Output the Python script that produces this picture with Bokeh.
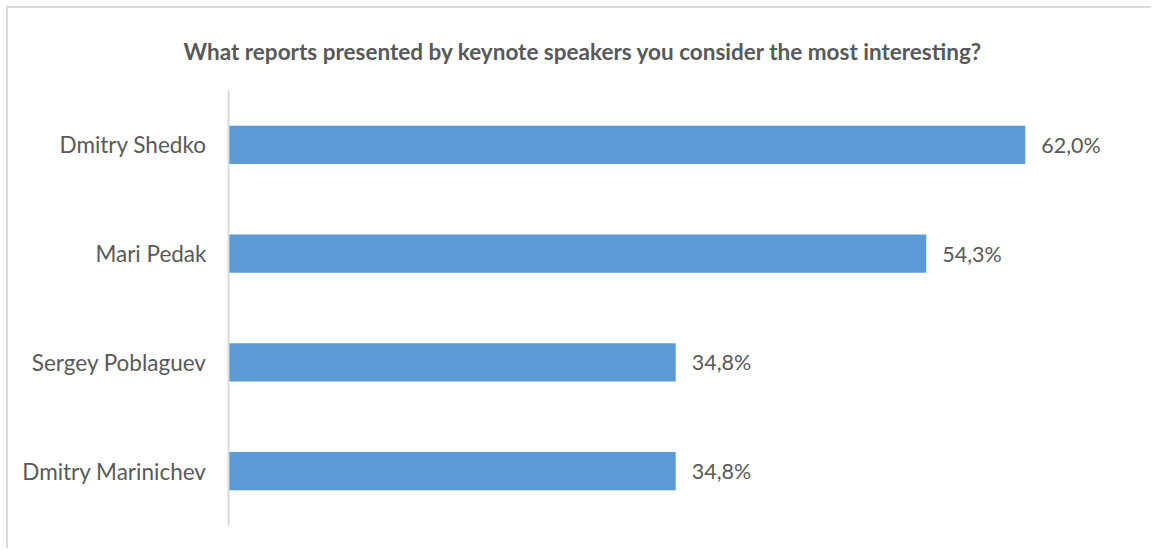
from bokeh.plotting import figure
from bokeh.models import FactorRange, ColumnDataSource, Range1d
from bokeh.core.properties import value
from bokeh.embed import file_html
from bokeh.resources import INLINE

speakers = ["Dmitry Shedko", "Mari Pedak", "Sergey Poblaguev", "Dmitry Marinichev"]
shares = [62.0, 54.3, 34.8, 34.8]
share_labels = ["62,0%", "54,3%", "34,8%", "34,8%"]
title_text = "What reports presented by keynote speakers you consider the most interesting?"

FONT = "Lato"
TXT = "#595959"

src = ColumnDataSource(dict(y=speakers, x=shares, lab=share_labels))

p = figure(width=1145, height=542, output_backend="svg", toolbar_location=None,
           y_range=FactorRange(*reversed(speakers), range_padding=0),
           x_range=Range1d(0, 70.19),
           min_border_left=220, min_border_right=23, min_border_top=82, min_border_bottom=25)
p.styles = {"box-shadow": "-2px -2px 0 0 #d9d9d9",
            "margin-left": "8px", "margin-top": "8px"}

p.hbar(y="y", right="x", left=0, height=0.35, source=src, color="#5B9BD5", line_color=None)
p.text(x="x", y="y", text="lab", source=src, x_offset=16, text_baseline="middle",
       text_align="left", text_font=value(FONT), text_font_size="21.5px", text_color=TXT)

p.title.text = title_text
p.title.align = "left"
p.title.vertical_align = "bottom"
p.title.text_font = FONT
p.title.text_font_style = "bold"
p.title.text_font_size = "22.5px"
p.title.text_color = TXT
p.title.standoff = 52
p.title.offset = -45

p.xaxis.visible = False
p.xgrid.visible = False
p.ygrid.visible = False
p.outline_line_color = None
p.yaxis.axis_line_color = "#d9d9d9"
p.yaxis.axis_line_width = 2
p.yaxis.major_tick_line_color = None
p.yaxis.minor_tick_line_color = None
p.yaxis.major_label_text_font = FONT
p.yaxis.major_label_text_font_size = "22.5px"
p.yaxis.major_label_text_color = TXT
p.yaxis.major_label_standoff = 16

open("out.html", "w").write(file_html(p, INLINE))
